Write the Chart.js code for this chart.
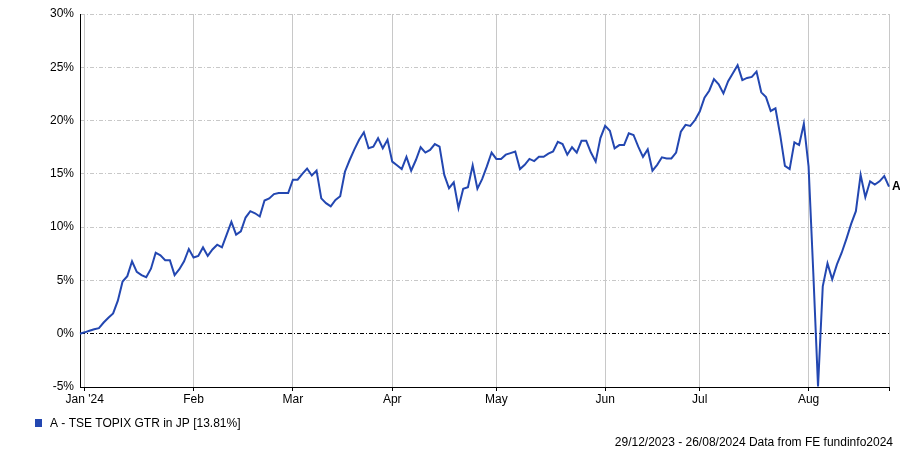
<!DOCTYPE html>
<html>
<head>
<meta charset="utf-8">
<title>TSE TOPIX GTR in JP</title>
<script src="https://cdn.jsdelivr.net/npm/chart.js@4.4.1/dist/chart.umd.min.js"></script>
<style>
  html, body { margin: 0; padding: 0; background: #fff; }
  #wrap { width: 900px; height: 450px; }
</style>
</head>
<body>
<div id="wrap"><canvas id="topixChart" width="900" height="450"></canvas></div>
<script>
// trading days (weekdays) 29/12/2023 .. 26/08/2024
const startDate = "2023-12-29";
const endDate = "2024-08-26";

const monthTicks = {
  "2024-01-01": "Jan '24",
  "2024-02-01": "Feb",
  "2024-03-01": "Mar",
  "2024-04-01": "Apr",
  "2024-05-01": "May",
  "2024-06-03": "Jun",
  "2024-07-01": "Jul",
  "2024-08-01": "Aug"
};

const yTicks = [-5, 0, 5, 10, 15, 20, 25, 30];

// cumulative return in %, one value per weekday
const topixReturn = [
  0, 0.13, 0.28, 0.42, 0.52, 1.05, 1.5, 1.9, 3.1, 4.9,
  5.4, 6.8, 5.8, 5.5, 5.3, 6.1, 7.6, 7.35, 6.9, 6.9,
  5.5, 6.05, 6.8, 7.95, 7.15, 7.3, 8.1, 7.3, 7.9, 8.35,
  8.1, 9.3, 10.5, 9.3, 9.6, 10.9, 11.5, 11.3, 11.0, 12.5,
  12.7, 13.1, 13.2, 13.2, 13.2, 14.45, 14.45, 15.0, 15.5, 14.85,
  15.3, 12.7, 12.25, 11.95, 12.55, 12.9, 15.2, 16.3, 17.3, 18.2,
  18.9, 17.4, 17.55, 18.35, 17.4, 18.2, 16.15, 15.8, 15.45, 16.6,
  15.3, 16.3, 17.5, 17.0, 17.25, 17.8, 17.55, 14.9, 13.65, 14.2,
  11.8, 13.6, 13.75, 15.8, 13.6, 14.5, 15.7, 17.0, 16.4, 16.4,
  16.8, 16.95, 17.1, 15.45, 15.85, 16.4, 16.2, 16.6, 16.6, 16.9,
  17.1, 18.0, 17.8, 16.8, 17.5, 17.0, 18.1, 18.1, 17.0, 16.15,
  18.35, 19.5, 19.05, 17.4, 17.7, 17.7, 18.8, 18.65, 17.55, 16.6,
  17.3, 15.3, 15.85, 16.55, 16.45, 16.45, 17.0, 18.95, 19.6, 19.5,
  20.05, 20.85, 22.15, 22.8, 23.9, 23.4, 22.55, 23.7, 24.45, 25.2,
  23.8, 24.0, 24.1, 24.6, 22.65, 22.2, 20.9, 21.15, 18.65, 15.75,
  15.45, 17.95, 17.7, 19.7, 15.7, 5.7, -4.95, 4.45, 6.6, 5.1,
  6.5, 7.6, 8.9, 10.3, 11.5, 14.9, 12.8, 14.3, 14.0, 14.3,
  14.8, 13.81
];

const seriesName = "A - TSE TOPIX GTR in JP [13.81%]";
const footerText = "29/12/2023 - 26/08/2024 Data from FE fundinfo2024";
const lineColor = "#2347b1";

function weekdays(from, to) {
  const out = [];
  const d = new Date(from + "T00:00:00Z");
  const end = new Date(to + "T00:00:00Z");
  while (d <= end) {
    const wd = d.getUTCDay();
    if (wd !== 0 && wd !== 6) out.push(d.toISOString().slice(0, 10));
    d.setUTCDate(d.getUTCDate() + 1);
  }
  return out;
}

const dates = weekdays(startDate, endDate);
const lastIdx = dates.length - 1;

const FONT = "Liberation Sans, Arial, sans-serif";

const endLabel = {
  id: "endLabel",
  afterDatasetsDraw(chart) {
    const meta = chart.getDatasetMeta(0);
    const pt = meta.data[meta.data.length - 1];
    if (!pt) return;
    const ctx = chart.ctx;
    ctx.save();
    ctx.fillStyle = "#000";
    ctx.font = "bold 12px " + FONT;
    ctx.textBaseline = "middle";
    ctx.fillText("A", pt.x + 3, pt.y);
    ctx.restore();
  }
};

const legendFooter = {
  id: "legendFooter",
  afterDraw(chart) {
    const ctx = chart.ctx;
    ctx.save();
    ctx.fillStyle = lineColor;
    ctx.fillRect(35, 419, 7, 8);
    ctx.fillStyle = "#000";
    ctx.font = "12px " + FONT;
    ctx.textBaseline = "middle";
    ctx.textAlign = "left";
    ctx.fillText(seriesName, 50, 424);
    ctx.textAlign = "right";
    ctx.fillText(footerText, 893, 443);
    ctx.restore();
  }
};

new Chart(document.getElementById("topixChart"), {
  type: "line",
  data: {
    labels: dates,
    datasets: [{
      label: seriesName,
      data: topixReturn,
      borderColor: lineColor,
      backgroundColor: lineColor,
      borderWidth: 2,
      pointRadius: 0,
      tension: 0,
      fill: false
    }]
  },
  options: {
    responsive: false,
    animation: false,
    devicePixelRatio: 1,
    layout: { padding: { top: 14, right: 11, left: 0, bottom: 0 } },
    plugins: {
      legend: { display: false },
      tooltip: { enabled: false }
    },
    scales: {
      x: {
        type: "category",
        afterFit(scale) { scale.height = 63; },
        grid: {
          color: "#c8c8c8",
          lineWidth: 1,
          tickLength: 4,
          tickColor: (c) => (c.index === lastIdx ? "rgba(0,0,0,0)" : "#000")
        },
        border: { color: "#000", width: 1 },
        ticks: {
          autoSkip: false,
          maxRotation: 0,
          padding: 1,
          color: "#000",
          font: { family: FONT, size: 12 },
          callback(value, index) {
            const d = dates[index];
            if (monthTicks[d]) return monthTicks[d];
            if (index === lastIdx) return "";
            return null;
          }
        }
      },
      y: {
        min: -5,
        max: 30,
        afterFit(scale) { scale.width = 80; },
        afterBuildTicks(scale) {
          scale.ticks = yTicks.map((v) => ({ value: v }));
        },
        grid: {
          drawTicks: false,
          color: (c) => {
            if (!c.tick) return "#c8c8c8";
            if (c.tick.value === 0) return "#000";
            if (c.tick.value === -5) return "rgba(0,0,0,0)";
            return "#c8c8c8";
          }
        },
        border: { color: "#000", width: 1, dash: [4, 2, 1, 2] },
        ticks: {
          padding: 6,
          color: "#000",
          font: { family: FONT, size: 12 },
          callback: (v) => v + "%"
        }
      }
    }
  },
  plugins: [endLabel, legendFooter]
});
</script>
</body>
</html>
